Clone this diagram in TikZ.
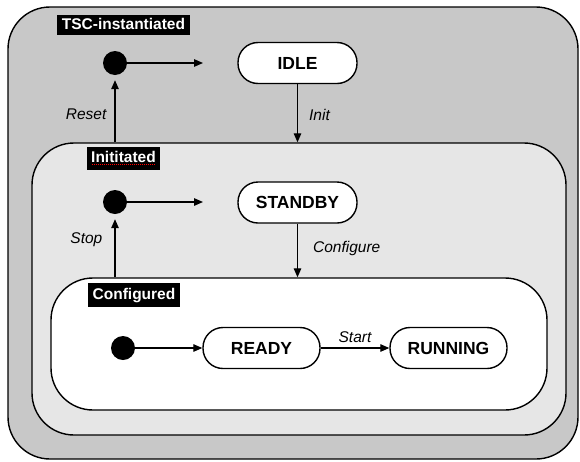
\documentclass[tikz,border=0pt]{standalone}
\usepackage{fontspec}
\setmainfont{Liberation Sans}
\usetikzlibrary{arrows.meta,positioning}
\definecolor{outerfill}{RGB}{200,200,200}
\definecolor{midfill}{RGB}{230,230,230}
\begin{document}
\begin{tikzpicture}[x=1pt,y=-1pt,
  region/.style={draw=black, line width=1.4pt, rounded corners=42pt, inner sep=0pt},
  tag/.style={fill=black, text=white, font=\fontsize{15.5}{18}\selectfont\bfseries,
    inner sep=0pt, minimum height=#1, text height=11.5pt, text depth=3.5pt},
  tag/.default=22pt,
  statebox/.style={draw=black, fill=white, line width=1.4pt, rounded corners=20pt,
    minimum width=119pt, minimum height=41pt, inner sep=0pt,
    font=\fontsize{17.5}{20}\selectfont\bfseries},
  initdot/.style={circle, fill=black, minimum size=24pt, inner sep=0pt},
  arr/.style={line width=1.3pt, -{Triangle[length=9pt,width=7.5pt]}},
  evlabel/.style={font=\fontsize{15.5}{18}\selectfont\itshape, inner sep=0pt}
]
\useasboundingbox (0,0) rectangle (580,461);
% regions
\node[region, fill=outerfill, minimum width=570pt, minimum height=452pt] (outer) at (293,233) {};
\node[region, fill=midfill, minimum width=534pt, minimum height=292pt] (initb) at (299,289) {};
\node[region, fill=white, minimum width=496pt, minimum height=132pt] (confb) at (299,344) {};
% tags
\node[tag=20pt, minimum width=133pt] (tsctag) at (123.5,25) {TSC-instantiated};
\node[tag=23pt, minimum width=73pt] (inittag) at (123.5,158) {Inititated};
\draw[red, densely dotted, line width=1pt] ([xshift=5pt,yshift=5pt]inittag.south west) -- ([xshift=-5pt,yshift=5pt]inittag.south east);
\node[tag=24pt, minimum width=92pt] (conftag) at (134,295) {Configured};
% initial dots
\node[initdot] (d1) at (115,63) {};
\node[initdot] (d2) at (115,202) {};
\node[initdot] (d3) at (123,348) {};
% states
\node[statebox] (idle) at (297.5,63) {IDLE};
\node[statebox] (standby) at (297.5,202.5) {STANDBY};
\node[statebox, minimum width=117pt] (ready) at (261.5,348) {READY};
\node[statebox, minimum width=117pt] (running) at (448.5,348) {RUNNING};
\coordinate (e1) at (203,63);
\coordinate (e2) at (203,202);
% transitions
\draw[arr] (d1) -- (e1);
\draw[arr] (d2) -- (e2);
\draw[arr] (d3) -- (ready);
\draw[arr] (ready) -- node[evlabel, above=5pt]{Start} (running);
\draw[arr] (idle) -- node[evlabel, pos=0.53, right=11pt]{Init} (idle |- initb.north);
\draw[arr] (standby) -- node[evlabel, pos=0.47, right=15pt]{Configure} (standby |- confb.north);
\draw[arr, shorten >=5pt] (d1 |- initb.north) -- node[evlabel, pos=0.42, left=8pt]{Reset} (d1);
\draw[arr, shorten >=5pt] (d2 |- confb.north) -- node[evlabel, pos=0.59, left=12pt]{Stop} (d2);
\end{tikzpicture}
\end{document}
